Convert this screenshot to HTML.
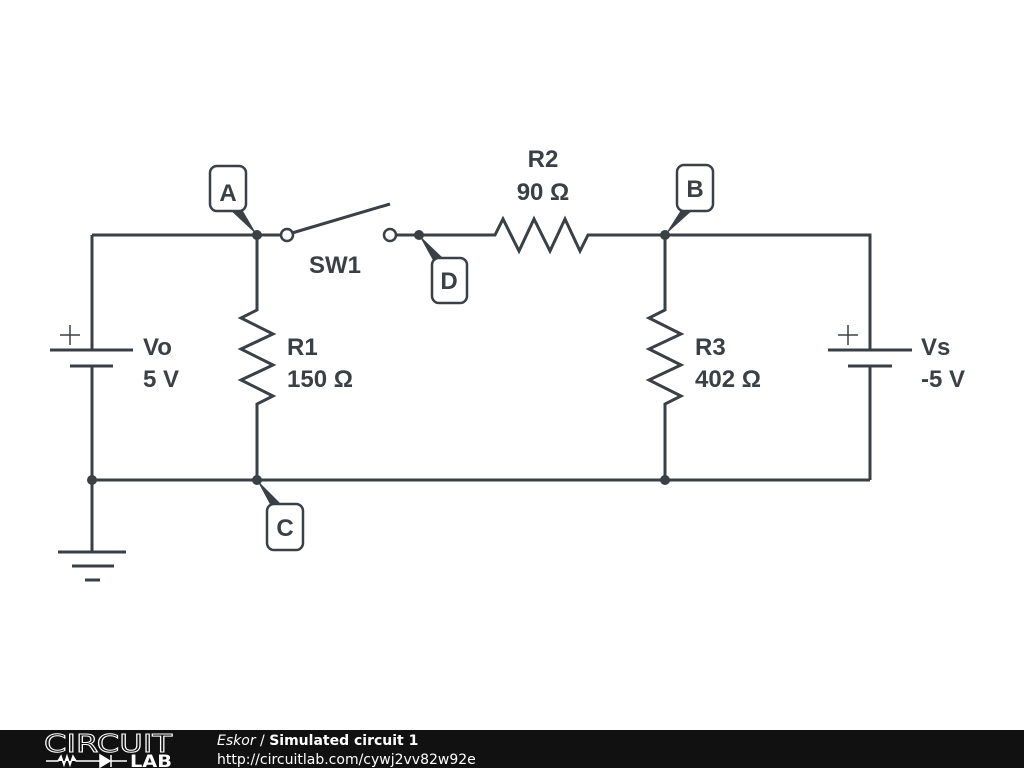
<!DOCTYPE html>
<html><head><meta charset="utf-8"><style>
html,body{margin:0;padding:0;background:#fff;width:1024px;height:768px;overflow:hidden}
svg{display:block}
</style></head><body>
<svg width="1024" height="768" xmlns="http://www.w3.org/2000/svg">
<rect width="1024" height="768" fill="#fff"/>
<g stroke="#3a4045" stroke-width="3" fill="none" stroke-linecap="butt" stroke-linejoin="miter">
<path d="M92 235 H281"/>
<path d="M396 235 H495 L503 219 L519 251 L534 219 L550 251 L565 219 L580 251 L588 235 H870 V350"/>
<path d="M292 233 L390 204"/>
<path d="M92 235 V350 M50 350 H133 M70 366 H113 M92 366 V552"/>
<path d="M58 552 H126 M72 566 H114 M85 580 H100"/>
<path d="M60 335 H80 M70 325 V345" stroke-width="1.5"/>
<path d="M838 335 H858 M848 325 V345" stroke-width="1.5"/>
<path d="M828 350 H912 M848 366 H892 M870 366 V480"/>
<path d="M257 235 V310 L241 318 L273 334 L241 349 L273 365 L241 380 L273 396 L257 404 V480"/>
<path d="M665 235 V310 L649 318 L681 334 L649 349 L681 365 L649 380 L681 396 L665 404 V480"/>
<path d="M92 480 H870"/>
<circle cx="287" cy="235" r="6" fill="#fff" stroke-width="2.5"/>
<circle cx="390" cy="235" r="6" fill="#fff" stroke-width="2.5"/>
</g>
<g fill="#3a4045">
<circle cx="257" cy="235" r="5"/><circle cx="419" cy="235" r="5"/><circle cx="665" cy="235" r="5"/>
<circle cx="92" cy="480" r="5"/><circle cx="257" cy="480" r="5"/><circle cx="665" cy="480" r="5"/>
<polygon points="257,235 226,206 240,206"/>
<polygon points="419,235 445,260 435,264"/>
<polygon points="665,235 683,207 696,207"/>
<polygon points="257,480 282,505 272,508"/>
</g>
<g fill="#fff" stroke="#3a4045" stroke-width="2.5">
<rect x="210" y="166" width="36" height="45" rx="7"/>
<rect x="432" y="258" width="35" height="45" rx="7"/>
<rect x="677" y="165" width="36" height="46" rx="7"/>
<rect x="267" y="504" width="36" height="46" rx="7"/>
</g>
<g font-family="'Liberation Sans',Arial,sans-serif" font-weight="bold" font-size="24" fill="#3a4045">
<text x="228" y="201" text-anchor="middle">A</text>
<text x="449" y="289" text-anchor="middle">D</text>
<text x="695" y="197" text-anchor="middle">B</text>
<text x="285" y="536" text-anchor="middle">C</text>
<text x="309" y="273">SW1</text>
<text x="543" y="167" text-anchor="middle">R2</text>
<text x="543" y="200" text-anchor="middle">90 Ω</text>
<text x="143" y="355">Vo</text>
<text x="143" y="387">5 V</text>
<text x="287" y="355">R1</text>
<text x="287" y="387">150 Ω</text>
<text x="695" y="355">R3</text>
<text x="695" y="387">402 Ω</text>
<text x="921" y="355">Vs</text>
<text x="921" y="387">-5 V</text>
</g>
<rect x="0" y="730" width="1024" height="38" fill="#111"/>
<g fill="#fff" font-family="'DejaVu Sans','Liberation Sans',sans-serif">
<text x="44" y="752" font-size="25" textLength="128" lengthAdjust="spacingAndGlyphs" fill="none" stroke="#fff" stroke-width="1">CIRCUIT</text>
<text x="130" y="767" font-size="17" font-weight="bold" textLength="42" lengthAdjust="spacingAndGlyphs">LAB</text>
<path d="M46 761 H58 L61 756 L64 765 L67 756 L70 765 L73 756 L76 761 H100 M100 755 V767 L110 761 Z M111 755 V767 M111 761 H127" stroke="#fff" stroke-width="1.5" fill="#fff"/>
<text x="217" y="745" font-size="14"><tspan font-style="italic">Eskor</tspan> / <tspan font-weight="bold">Simulated circuit 1</tspan></text>
<text x="217" y="764" font-size="14">http://circuitlab.com/cywj2vv82w92e</text>
</g>
</svg>
</body></html>
